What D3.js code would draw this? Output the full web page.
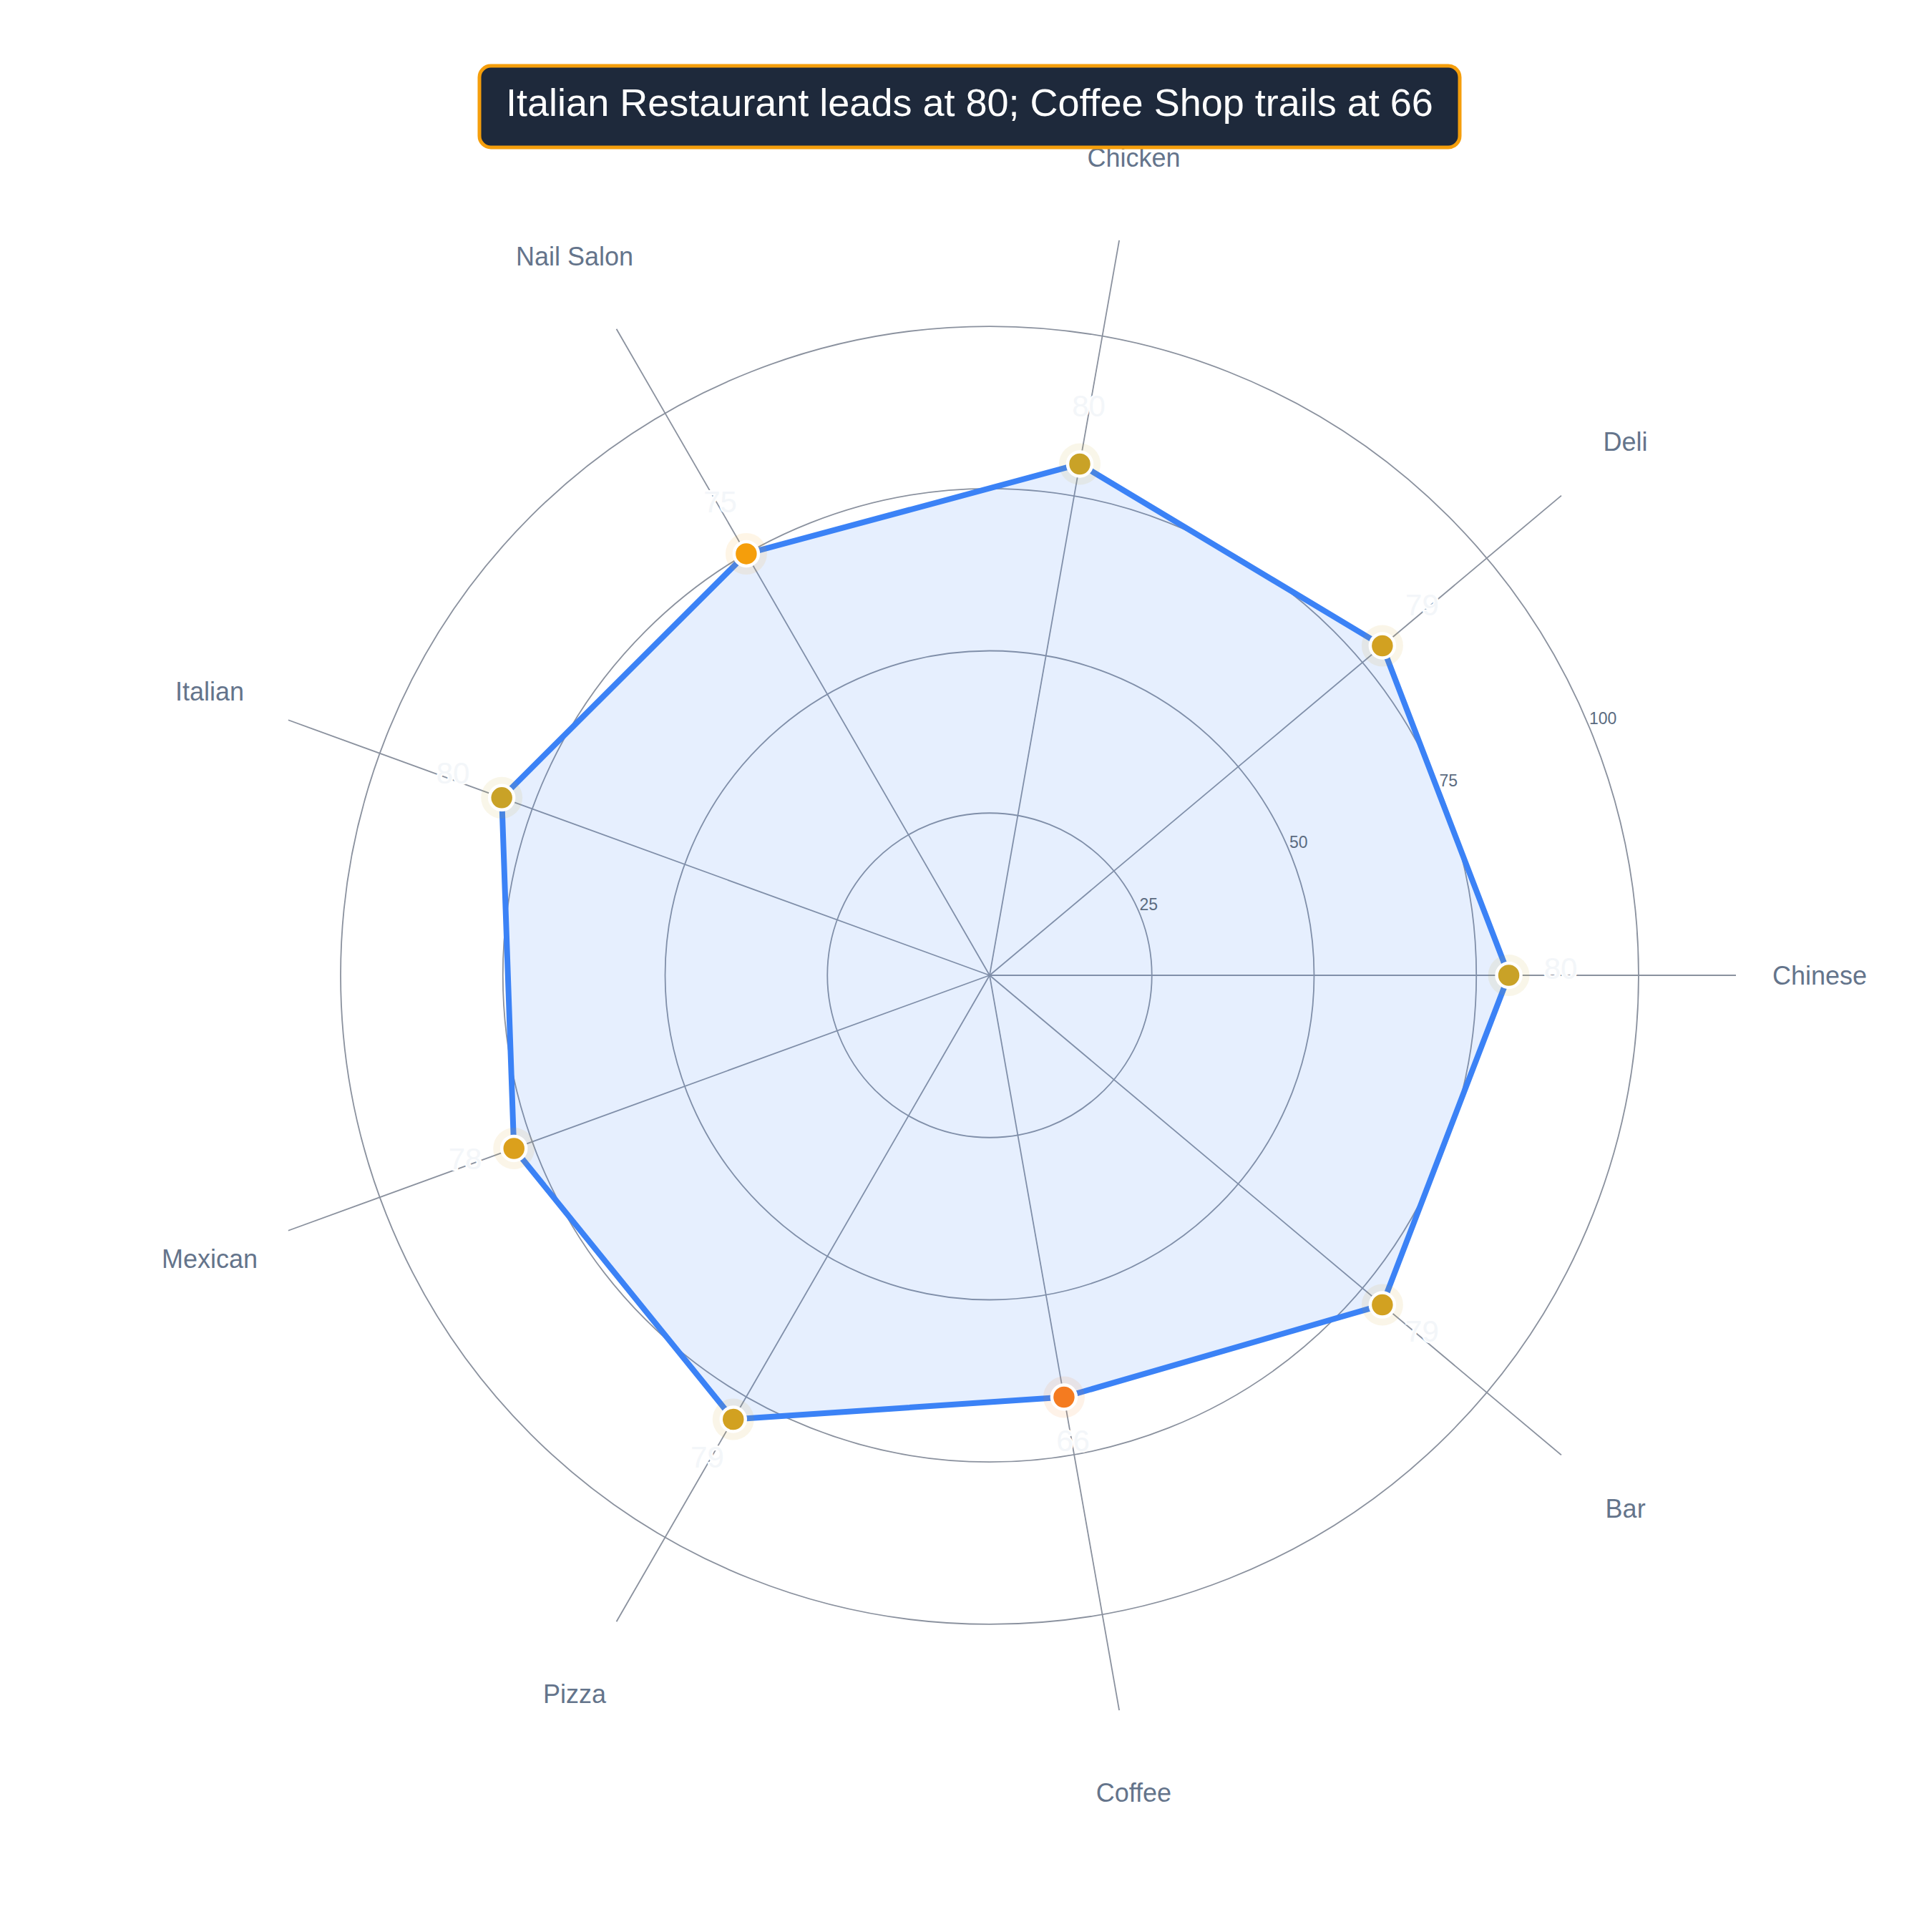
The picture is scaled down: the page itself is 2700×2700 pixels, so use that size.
<!DOCTYPE html>
<head>
  <meta charset="utf-8">
  <title>Italian Restaurant leads at 80; Coffee Shop trails at 66</title>
  <style>
    body { margin: 0; background: #ffffff; font-family: "Liberation Sans", Arial, Helvetica, sans-serif; }
  </style>
  <script src="https://cdn.jsdelivr.net/npm/d3@7/dist/d3.min.js"></script>
</head>
<body>
  <script>
    // chart data
    var categories = ["Chinese", "Deli", "Chicken", "Nail Salon", "Italian", "Mexican", "Pizza", "Coffee", "Bar"];
    var scores = [80, 79, 80, 75, 80, 78, 79, 66, 79];
    var radialTicks = [25, 50, 75, 100];
    var titleText = "Italian Restaurant leads at 80; Coffee Shop trails at 66";

    var width = 2700, height = 2700;
    var cx = 1383, cy = 1363;
    var rangeMax = 115;

    var svg = d3.select("body").append("svg")
      .attr("width", width)
      .attr("height", height);

    var rScale = d3.scaleLinear().domain([0, rangeMax]).range([0, 1043]);
    var angle = d3.scaleLinear().domain([0, categories.length]).range([0, 2 * Math.PI]);
    // marker colour follows the score
    var color = d3.scaleLinear().domain([66, 75, 80]).range(["#f47b20", "#f59e0b", "#c9a227"]).clamp(true);

    function px(i, v) { return cx + rScale(v) * Math.cos(angle(i)); }
    function py(i, v) { return cy - rScale(v) * Math.sin(angle(i)); }

    var grid = svg.append("g");

    // grid circles
    grid.selectAll("circle")
      .data(radialTicks)
      .enter().append("circle")
        .attr("cx", cx).attr("cy", cy)
        .attr("r", d => rScale(d))
        .attr("fill", "none")
        .attr("stroke", "#8a919e")
        .attr("stroke-width", 1.8);

    // spokes
    grid.selectAll("line")
      .data(categories)
      .enter().append("line")
        .attr("x1", cx).attr("y1", cy)
        .attr("x2", (d, i) => px(i, rangeMax))
        .attr("y2", (d, i) => py(i, rangeMax))
        .attr("stroke", "#8a919e")
        .attr("stroke-width", 1.8);

    var pts = scores.map((v, i) => [px(i, v), py(i, v)]);

    // filled area + outline
    svg.append("path")
      .attr("d", d3.line().curve(d3.curveLinearClosed)(pts))
      .attr("fill", "rgba(59,130,246,0.13)")
      .attr("stroke", "#3b82f6")
      .attr("stroke-width", 8)
      .attr("stroke-linejoin", "round");

    // radial tick labels along 22.5 degrees
    var tickAng = 22.5 * Math.PI / 180;
    svg.append("g").selectAll("text")
      .data(radialTicks)
      .enter().append("text")
        .attr("x", d => cx + rScale(d) * Math.cos(tickAng))
        .attr("y", d => cy - rScale(d) * Math.sin(tickAng) - 4)
        .attr("font-size", 23)
        .attr("fill", "#5b6b80")
        .text(d => d);

    // halos
    svg.append("g").selectAll("circle")
      .data(scores)
      .enter().append("circle")
        .attr("cx", (d, i) => px(i, d))
        .attr("cy", (d, i) => py(i, d))
        .attr("r", 29)
        .attr("fill", d => color(d))
        .attr("fill-opacity", 0.1);

    // markers
    svg.append("g").selectAll("circle")
      .data(scores)
      .enter().append("circle")
        .attr("cx", (d, i) => px(i, d))
        .attr("cy", (d, i) => py(i, d))
        .attr("r", 17)
        .attr("fill", d => color(d))
        .attr("stroke", "#ffffff")
        .attr("stroke-width", 4.5);

    // value labels (nearly white)
    svg.append("g").selectAll("text")
      .data(scores)
      .enter().append("text")
        .attr("x", (d, i) => px(i, d + 8))
        .attr("y", (d, i) => py(i, d + 8) - 10)
        .attr("text-anchor", "middle")
        .attr("dominant-baseline", "central")
        .attr("font-size", 42)
        .attr("fill", "#f3f6f9")
        .attr("stroke", "#ffffff")
        .attr("stroke-width", 4)
        .attr("paint-order", "stroke")
        .text(d => d);

    // category labels
    svg.append("g").selectAll("text")
      .data(categories)
      .enter().append("text")
        .attr("x", (d, i) => cx + (rScale(rangeMax) + 117) * Math.cos(angle(i)))
        .attr("y", (d, i) => cy - (rScale(rangeMax) + 117) * Math.sin(angle(i)))
        .attr("text-anchor", "middle")
        .attr("dominant-baseline", "central")
        .attr("font-size", 36)
        .attr("fill", "#64748b")
        .text(d => d);

    // title box
    svg.append("rect")
      .attr("x", 670).attr("y", 92)
      .attr("width", 1370).attr("height", 114)
      .attr("rx", 16)
      .attr("fill", "#1e293b")
      .attr("stroke", "#f59e0b")
      .attr("stroke-width", 5);

    svg.append("text")
      .attr("x", 1355).attr("y", 162)
      .attr("text-anchor", "middle")
      .attr("font-size", 54)
      .attr("fill", "#ffffff")
      .text(titleText);
  </script>
</body>
